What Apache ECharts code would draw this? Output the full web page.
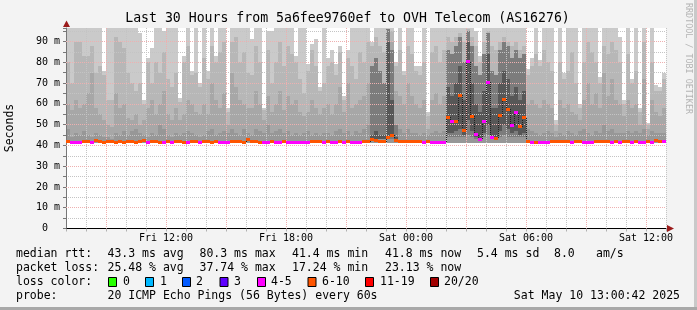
<!DOCTYPE html>
<html>
<head>
<meta charset="utf-8">
<script src="https://cdn.jsdelivr.net/npm/echarts/dist/echarts.min.js"></script>
<style>
html,body{margin:0;padding:0;background:#f3f3f3;}
#chart{width:697px;height:310px;}
</style>
</head>
<body>
<div id="chart"></div>
<script>
// ================= DATA =================
// 150 consolidation steps of 12 minutes; hour 0 = Fri 07:00, hour 30 = Sat 13:00
const slotHours = 0.2;
const smokeFloor = 41.0;   // lowest ping (ms)

// top of the outermost (lightest) smoke band per step, ms (97 = beyond the top)
const smokeMax = [
 97,97,97,97,97,97,97,97,97,76, 97,97,97,97,97,97,97,97,94,62,
 82,87,97,97,95,97,97,97,63,83, 97,76,97,70,97,76,97,83,97,97,
 58,97,97,97,97,97,91,97,97,58, 95,95,97,97,97,97,97,83,97,97,
 79,89,91,68,97,82,86,79,88,64, 86,97,97,97,97,97,90,97,97,97,
 97,97,80,97,76,97,97,78,78,97, 56,97,97,97,97,97,97,97,97,97,
 97,97,95,83,97,97,97,97,97,97, 97,97,97,97,97,77,82,97,81,97,
 97,97,52,97,75,97,97,97,60,97, 97,97,97,73,97,97,97,97,92,62,
 97,72,97,58,97,51,97,69,68,75
];
const smokeL3 = [
 80,70,90,90,83,83,88,75,78,74, 62,62,92,90,87,75,70,66,70,60,
 80,70,80,75,85,72,68,75,61,80, 88,74,75,68,82,72,88,80,85,90,
 56,90,92,80,85,75,74,88,80,57, 86,70,80,90,78,88,84,80,72,65,
 76,86,78,66,70,78,80,74,85,62, 82,78,72,85,80,90,88,92,88,85,
 95,95,78,86,74,88,84,76,74,80, 54,85,88,80,86,92,90,92,94,90,
 96,92,88,80,90,95,88,86,90,92, 90,88,90,86,88,74,78,84,78,86,
 80,76,50,80,72,76,85,70,58,80, 90,85,80,70,88,84,90,86,80,60,
 84,70,76,56,90,50,80,66,66,72
];
const smokeL2 = [
 60,57,62,58,60,65,75,58,55,52, 50,49,65,58,60,53,52,55,50,52,
 58,62,55,60,66,55,52,58,52,55, 62,60,56,55,60,55,70,62,58,65,
 50,75,68,62,60,58,58,66,60,52, 64,56,60,66,57,64,60,62,56,54,
 56,62,58,55,58,60,55,60,68,56, 70,58,60,62,64,70,78,80,72,70,
 92,90,66,64,60,70,64,60,58,62, 48,62,65,60,64,85,82,84,88,80,
 94,85,75,70,80,90,76,74,80,84, 82,78,80,76,78,60,62,60,58,62,
 60,58,47,62,58,60,56,55,52,62, 70,60,65,58,75,64,72,62,60,54,
 62,58,60,50,72,48,62,56,54,58
];
const smokeL1 = [
 48,44,46,45,47,45,44,46,45,44, 44,43,46,45,47,45,47,48,46,45,
 44,46,45,50,48,45,44,46,45,46, 47,46,45,44,45,47,48,45,46,47,
 46,48,46,45,48,46,45,48,47,46, 50,46,47,48,46,47,45,46,45,46,
 47,45,46,45,46,46,45,47,48,46, 47,45,47,46,48,50,55,58,52,50,
 62,60,50,48,46,48,46,46,45,46, 45,46,47,46,47,70,68,72,78,66,
 90,70,60,55,65,82,58,56,68,74, 70,62,66,60,64,48,47,46,45,46,
 47,46,44,46,45,47,46,45,47,48, 46,45,47,46,50,47,48,46,46,46,
 47,46,47,46,48,45,47,46,46,46
];
// dark inner smoke (steps with high latency)
const coreCols = [76,77,78,79,80,81,82, 95,96,97,98,99,100,101,102,103,104,105,106,107,108,109,110,111,112,113,114];
const core1Lo  = [43,43,43,43,43,43,43, 44,44,44,44,44,45,44,43,43,44,45,43,43,44,45,44,44,44,44,44];
const core1Hi  = [78,82,76,70,96,86,50, 86,84,88,92,80,95,88,78,74,84,94,76,74,86,90,88,82,86,82,84];
const core2Lo  = [43,43,43,43,44,44,43, 46,46,47,48,45,52,47,44,43,46,50,44,44,47,50,48,46,47,45,46];
const core2Hi  = [45,47,45,45,90,62,44, 68,64,70,78,62,90,70,60,56,66,84,58,58,70,76,72,64,68,62,66];

// median rtt per step, ms
const medianRtt = [
 41.7,41.6,41.6,41.6,41.7,41.7,41.6,42.3,41.7,41.6, 41.7,41.7,41.6,41.7,41.6,41.7,41.7,41.6,41.7,42.4,
 41.6,41.7,41.7,41.6,41.6,41.7,41.6,41.7,41.7,41.6, 41.6,41.7,41.7,41.6,41.7,41.7,41.6,41.7,41.6,41.6,
 41.6,41.7,41.7,41.7,41.6,42.8,41.7,41.7,41.6,41.6, 41.6,41.7,41.6,41.6,41.7,41.6,41.6,41.6,41.6,41.6,
 41.6,41.7,41.7,41.7,41.6,41.7,41.6,41.6,41.7,41.6, 41.7,41.6,41.6,41.6,41.7,41.8,43.0,42.4,42.0,41.8,
 44.0,44.9,42.2,41.8,41.7,41.7,41.7,41.7,41.7,41.6, 41.7,41.6,41.6,41.6,41.6,53.5,51.7,51.7,64.2,47.2,
 80.3,54.1,45.1,43.0,51.3,70.5,44.0,43.4,54.3,62.2, 57.5,49.7,55.6,49.0,53.3,42.0,41.6,41.3,41.6,41.6,
 41.6,41.7,41.7,41.7,41.7,41.7,41.6,41.7,41.7,41.6, 41.6,41.6,41.7,41.7,41.7,41.7,41.6,41.7,41.6,41.7,
 41.7,41.6,41.7,41.6,41.6,41.7,41.6,42.4,41.7,41.8
];
// packet loss per step, %
const lossPct = [
 27,24,23,24,28,27,24,28,27,29, 28,27,29,28,27,28,30,27,28,29,
 24,28,27,29,24,27,23,28,27,29, 24,27,28,23,27,28,29,27,24,24,
 23,27,28,27,29,28,27,28,27,24, 24,28,24,23,27,24,23,24,24,23,
 24,27,28,27,24,28,24,23,27,24, 28,24,23,24,27,28,29,30,28,27,
 31,30,28,27,28,27,28,27,28,24, 27,24,23,24,24,32,25,31,33,30,
 25,34,24,25,24,25,24,31,33,34, 30,25,24,29,28,27,24,27,24,23,
 24,27,28,27,28,27,24,28,27,24, 23,24,27,28,27,28,24,27,24,28,
 27,24,28,24,23,27,24,28,27,24
];

const xLabelHours = [5, 11, 17, 23, 29];
const xLabelTexts = ['Fri 12:00', 'Fri 18:00', 'Sat 00:00', 'Sat 06:00', 'Sat 12:00'];
const xMajorHours = [2, 5, 8, 11, 14, 17, 20, 23, 26, 29];
const yMajorTicks = [10, 20, 30, 40, 50, 60, 70, 80, 90];

const lossBins = [0, 1, 2, 3, 5, 10, 19, 20];
const lossBinLabels = ['0', '1', '2', '3', '4-5', '6-10', '11-19', '20/20'];

const titleText = 'Last 30 Hours from 5a6fee9760ef to OVH Telecom (AS16276)';
const rttStats  = ['median rtt:', '43.3 ms avg', '80.3 ms max', '41.4 ms min', '41.8 ms now', '5.4 ms sd', '8.0', 'am/s'];
const lossStats = ['packet loss:', '25.48 % avg', '37.74 % max', '17.24 % min', '23.13 % now'];
const probeText = ['probe:', '20 ICMP Echo Pings (56 Bytes) every 60s', 'Sat May 10 13:00:42 2025'];

// ================= STYLE / LAYOUT =================
const MONO = "'DejaVu Sans Mono', 'Liberation Mono', monospace";
const lossColors = ['#26ff00', '#00b8ff', '#0059ff', '#5e00ff', '#ff00ff', '#ff5500', '#ff0000', '#a10000'];
const smokeColors = ['#cacaca', '#b7b7b7', '#a7a7a7', '#979797', '#7c7c7c', '#575757'];
const MINOR = '#c4c4c4';
const MAJOR = '#eeb0b0';
const ARROW = '#9b1b1b';

function lossColor(pct) {
  const lost = pct / 100 * 20;
  for (let k = 0; k < lossBins.length; k++) if (lost <= lossBins[k] + 1e-9) return lossColors[k];
  return lossColors[lossColors.length - 1];
}
function sp(p) { const d = Math.round(p * 2); return (d + 1) % 2 === 0 ? d / 2 : (d + 1) / 2; }

const chart = echarts.init(document.getElementById('chart'), null, { renderer: 'canvas', width: 697, height: 310 });

function renderSmoke(params, api) {
  const i = api.value(1);
  const cs = params.coordSys;
  const x0 = Math.round(api.coord([i * slotHours, 0])[0]);
  const x1 = Math.round(api.coord([(i + 1) * slotHours, 0])[0]);
  const yOf = v => Math.round(Math.max(cs.y, api.coord([0, v])[1]));
  const rect = (lo, hi, color) => ({
    type: 'rect',
    shape: { x: x0, y: yOf(hi), width: x1 - x0, height: Math.max(0, yOf(lo) - yOf(hi)) },
    style: { fill: color }
  });
  const ch = [
    rect(smokeFloor, smokeMax[i], smokeColors[0]),
    rect(smokeFloor, smokeL3[i], smokeColors[1]),
    rect(smokeFloor, smokeL2[i], smokeColors[2]),
    rect(smokeFloor, smokeL1[i], smokeColors[3])
  ];
  const k = coreCols.indexOf(i);
  if (k >= 0) {
    ch.push(rect(core1Lo[k], core1Hi[k], smokeColors[4]));
    ch.push(rect(core2Lo[k], core2Hi[k], smokeColors[5]));
  }
  return { type: 'group', children: ch };
}

function renderMajor(params, api) {
  const cs = params.coordSys;
  const style = { stroke: MAJOR, lineWidth: 1, lineDash: [1, 1] };
  if (api.value(2) === 0) {
    const x = sp(api.coord([api.value(0), 0])[0]);
    return { type: 'line', shape: { x1: x, y1: cs.y, x2: x, y2: cs.y + cs.height }, style };
  }
  const y = sp(api.coord([0, api.value(1)])[1]);
  return { type: 'line', shape: { x1: cs.x, y1: y, x2: cs.x + cs.width, y2: y }, style };
}

function renderMedian(params, api) {
  const i = api.value(2);
  const x0 = Math.round(api.coord([i * slotHours, 0])[0]);
  const x1 = Math.round(api.coord([(i + 1) * slotHours, 0])[0]);
  const y = api.coord([0, medianRtt[i]])[1];
  const ch = [];
  if (i > 0) {
    const yp = api.coord([0, medianRtt[i - 1]])[1];
    if (Math.abs(yp - y) > 2) ch.push({ type: 'line', shape: { x1: x0 + 0.5, y1: Math.round(yp), x2: x0 + 0.5, y2: Math.round(y) }, style: { stroke: '#202020', lineWidth: 1, lineDash: [1, 1] } });
  }
  ch.push({ type: 'rect', shape: { x: x0, y: Math.round(y - 1.5), width: x1 - x0, height: 3 }, style: { fill: lossColor(lossPct[i]) } });
  return { type: 'group', children: ch };
}

const gridBox = { left: 66, top: 28, width: 600, height: 200.5 };
const xLabelMap = {};
xLabelHours.forEach((h, k) => { xLabelMap[h] = xLabelTexts[k]; });

const txt = (text, x, y, extra) => Object.assign({
  type: 'text', x, y, z: 100, silent: true,
  style: Object.assign({ text, fontFamily: MONO, fontSize: 11.5, fill: '#000', align: 'left', verticalAlign: 'middle' }, (extra && extra.style) || {})
}, extra && extra.rotation !== undefined ? { rotation: extra.rotation } : {});

const graphics = [];
// frame
graphics.push({ type: 'rect', z: 100, silent: true, shape: { x: 694, y: 0, width: 3, height: 310 }, style: { fill: '#c9c9c9' } });
graphics.push({ type: 'rect', z: 100, silent: true, shape: { x: 0, y: 307, width: 697, height: 3 }, style: { fill: '#a8a8a8' } });
// title
graphics.push(txt(titleText, 347.5, 19, { style: { fontSize: 13.2, align: 'center' } }));
// y-axis name
graphics.push(txt('Seconds', 10.5, 128, { rotation: Math.PI / 2, style: { align: 'center' } }));
// watermark
graphics.push(txt('RRDTOOL / TOBI OETIKER', 688, 58.5, { rotation: -Math.PI / 2, style: { align: 'center', fontSize: 8.4, fill: '#b4b4b4' } }));
// arrows
graphics.push({ type: 'polygon', z: 100, silent: true, shape: { points: [[66.5, 20.5], [63, 27], [70, 27]] }, style: { fill: ARROW } });
graphics.push({ type: 'polygon', z: 100, silent: true, shape: { points: [[674, 228.5], [667, 225], [667, 232]] }, style: { fill: ARROW } });
// legend rows
const rttX = [16, 107.5, 199.5, 292, 385, 477, 554, 596];
rttStats.forEach((s, k) => graphics.push(txt(s, rttX[k], 254.5)));
const lossX = [16, 107.5, 199.5, 292, 385];
lossStats.forEach((s, k) => graphics.push(txt(s, lossX[k], 268.5)));
graphics.push(txt('loss color:', 16, 282.5));
const boxX = [108, 145, 182, 219.5, 257, 307.5, 365, 430];
const boxLabelX = [123, 160, 196, 234, 271, 322, 380, 444];
lossBinLabels.forEach((s, k) => {
  graphics.push({ type: 'rect', z: 100, silent: true, shape: { x: boxX[k] + 0.5, y: 277.5, width: 8, height: 9 }, style: { fill: lossColors[k], stroke: '#000', lineWidth: 1 } });
  graphics.push(txt(s, boxLabelX[k], 282.5));
});
graphics.push(txt(probeText[0], 16, 296.5));
graphics.push(txt(probeText[1], 107.5, 296.5));
graphics.push(txt(probeText[2], 680, 296.5, { style: { align: 'right' } }));

chart.setOption({
  animation: false,
  backgroundColor: '#f3f3f3',
  grid: Object.assign({ show: true, backgroundColor: '#ffffff', borderWidth: 0, containLabel: false }, gridBox),
  xAxis: {
    type: 'value', min: 0, max: 30, interval: 1, z: 3,
    axisLine: { show: true, onZero: false, lineStyle: { color: '#000', width: 1 } },
    axisTick: { show: true, length: 3, lineStyle: { color: '#b0b0b0' } },
    axisLabel: { fontFamily: MONO, fontSize: 10, color: '#000', margin: 5, formatter: v => xLabelMap[v] || '' },
    splitLine: { show: true, lineStyle: { color: MINOR, width: 1, type: [1, 1] } }
  },
  yAxis: {
    type: 'value', min: 0, max: 96.5, interval: 5, z: 3,
    axisLine: { show: true, onZero: false, lineStyle: { color: '#777', width: 1 } },
    axisTick: { show: true, length: 3, lineStyle: { color: '#777' } },
    axisLabel: { fontFamily: MONO, fontSize: 10, color: '#000', margin: 6,
      formatter: v => (v % 10 === 0 ? (v === 0 ? '0  ' : v + ' m') : '') },
    splitLine: { show: true, showMaxLine: false, showMinLine: false, lineStyle: { color: MINOR, width: 1, type: [1, 1] } }
  },
  series: [
    { type: 'custom', name: 'smoke', z: 2, silent: true, clip: true, encode: { x: 0, y: 2 },
      data: smokeMax.map((v, i) => [i * slotHours, i, Math.min(v, 96)]), renderItem: renderSmoke },
    { type: 'custom', name: 'majorGrid', z: 4, silent: true, encode: { x: 0, y: 1 },
      data: xMajorHours.map(h => [h, 50, 0]).concat(yMajorTicks.map(v => [15, v, 1])), renderItem: renderMajor },
    { type: 'custom', name: 'median', z: 6, silent: true, clip: true, encode: { x: 0, y: 1 },
      data: medianRtt.map((m, i) => [i * slotHours, m, i]), renderItem: renderMedian }
  ],
  graphic: graphics
});
</script>
</body>
</html>
